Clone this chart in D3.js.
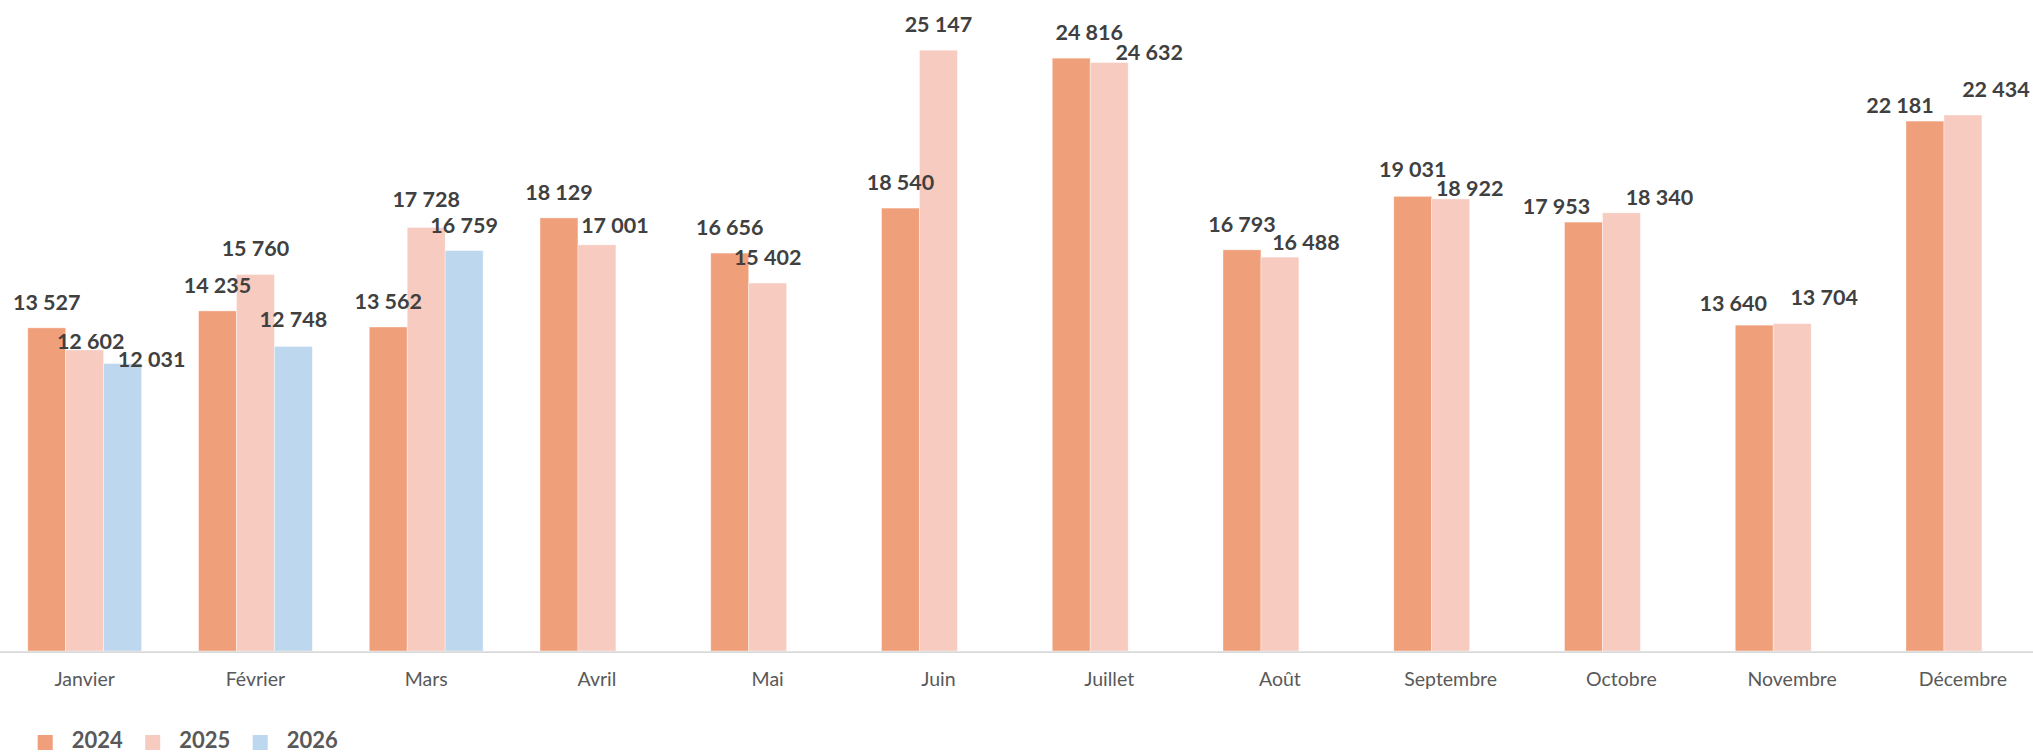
<!DOCTYPE html>
<html lang="fr">
<head>
<meta charset="utf-8">
<script src="https://cdn.jsdelivr.net/npm/d3@7"></script>
<style>
  html, body { margin: 0; padding: 0; background: #fff; }
  svg { display: block; font-family: Lato, "Open Sans", sans-serif; }
</style>
</head>
<body>
<svg id="chart" width="2033" height="753"></svg>
<script>
const months = ['Janvier', 'Février', 'Mars', 'Avril', 'Mai', 'Juin',
  'Juillet', 'Août', 'Septembre', 'Octobre', 'Novembre', 'Décembre'];
const years = ['2024', '2025', '2026'];
const values2024 = [13527, 14235, 13562, 18129, 16656, 18540, 24816, 16793, 19031, 17953, 13640, 22181];
const values2025 = [12602, 15760, 17728, 17001, 15402, 25147, 24632, 16488, 18922, 18340, 13704, 22434];
const values2026 = [12031, 12748, 16759, null, null, null, null, null, null, null, null, null];

// label offsets, as placed by hand in the original (dx, dy)
const labelNudge = {
  '2024': [[0,0],[0,0],[0,0],[0,0],[0,0],[0,0],[18,0],[0,0],[0,-1],[-27,10],[-21,4],[-25,10]],
  '2025': [[6,17],[0,0],[0,-2],[18,6],[0,0],[0,0],[40,15],[26,11],[19,15],[38,10],[32,-1],[33,0]],
  '2026': [[29,21],[0,-1],[0,0]]
};

const colors = { '2024': '#F09F7B', '2025': '#F7CBBF', '2026': '#BDD7EE' };

const series = {
  '2024': values2024,
  '2025': values2025,
  '2026': values2026
};

const svg = d3.select('#chart');
const width = 2033;
const baseline = 651;

const x = d3.scaleBand()
  .domain(months)
  .range([-0.7, -0.7 + 170.75 * months.length])
  .padding(0);

// excel gap width 150%
const groupWidth = x.bandwidth() * 3 / 4.5;
const xSub = d3.scaleBand().domain(years).range([0, groupWidth]);

const y = d3.scaleLinear().domain([0, 27250]).range([baseline, 0]);

const fmt = v => d3.format(',')(v).replace(/,/g, ' ');

const rows = [];
years.forEach(yr => {
  series[yr].forEach((v, i) => {
    if (v == null) return;
    rows.push({ year: yr, month: months[i], i, value: v });
  });
});

const barX = d => x(d.month) + (x.bandwidth() - groupWidth) / 2 + xSub(d.year);

// Bars
svg.append('g')
  .selectAll('rect')
  .data(rows)
  .join('rect')
  .attr('x', barX)
  .attr('y', d => y(d.value))
  .attr('width', xSub.bandwidth())
  .attr('height', d => baseline - y(d.value))
  .attr('fill', d => colors[d.year])
  .attr('stroke', '#fff')
  .attr('stroke-opacity', 0.5)
  .attr('stroke-width', 0.75);

// Axis line
svg.append('line')
  .attr('x1', 0).attr('x2', width)
  .attr('y1', baseline + 1).attr('y2', baseline + 1)
  .attr('stroke', '#D9D9D9')
  .attr('stroke-width', 1.75);

// Category labels
svg.append('g')
  .selectAll('text')
  .data(months)
  .join('text')
  .attr('x', d => x(d) + x.bandwidth() / 2)
  .attr('y', 686)
  .attr('text-anchor', 'middle')
  .attr('font-size', 19.5)
  .attr('fill', '#595959')
  .text(d => d);

// Data labels
svg.append('g')
  .selectAll('text')
  .data(rows)
  .join('text')
  .attr('x', d => barX(d) + xSub.bandwidth() / 2 + labelNudge[d.year][d.i][0])
  .attr('y', d => y(d.value) - 18 + labelNudge[d.year][d.i][1])
  .attr('text-anchor', 'middle')
  .attr('font-size', 21.5)
  .attr('font-weight', 700)
  .attr('fill', '#404040')
  .text(d => fmt(d.value));

// Legend
const legend = svg.append('g')
  .selectAll('g')
  .data(years)
  .join('g')
  .attr('transform', (d, i) => `translate(${37.7 + i * 107.5},735)`);

legend.append('rect')
  .attr('width', 15)
  .attr('height', 15)
  .attr('fill', d => colors[d]);

legend.append('text')
  .attr('x', 34)
  .attr('y', 13)
  .attr('font-size', 22)
  .attr('font-weight', 700)
  .attr('fill', '#595959')
  .text(d => d);
</script>
</body>
</html>
